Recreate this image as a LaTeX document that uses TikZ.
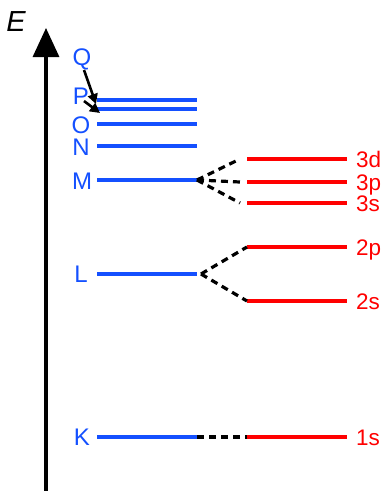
\documentclass[tikz,border=0pt]{standalone}
\usepackage{fontspec}
\setmainfont{Liberation Sans}
\usetikzlibrary{arrows.meta}
\definecolor{shellblue}{RGB}{20,80,255}
\definecolor{subred}{RGB}{255,0,0}
\begin{document}
\begin{tikzpicture}[x=1pt,y=-1pt,
  shell/.style={draw=shellblue,line width=3.2pt},
  sub/.style={draw=subred,line width=3.2pt},
  split/.style={draw=black,line width=3.2pt,dash pattern=on 7pt off 5pt},
  slabel/.style={text=shellblue,font=\fontsize{24}{24}\selectfont,inner sep=0pt},
  rlabel/.style={text=subred,font=\fontsize{22.5}{22.5}\selectfont,inner sep=0pt,anchor=base west},
  ptr/.style={draw=black,line width=2.6pt,-{Triangle[length=10pt,width=10pt]}}]
\useasboundingbox (0,0) rectangle (386,491);
% energy axis
\coordinate (ab) at (46,491);
\coordinate (at) at (46,28);
\draw[line width=3.2pt,-{Triangle[length=29pt,width=26pt]}] (ab) -- (at);
\node[font=\fontsize{29}{29}\selectfont\itshape,inner sep=0pt] (E) at (16,22) {E};
% shells
\foreach \n/\y in {P1/100,P2/109,O/124,N/146,M/180,L/274,K/437}{
  \coordinate (\n l) at (97,\y);
  \coordinate (\n r) at (197,\y);
  \draw[shell] (\n l) -- (\n r);
}
\node[slabel] (Q) at (82,59) {Q};
\node[slabel] (P) at (81,96) {P};
\node[slabel] (O) at (81,125) {O};
\node[slabel] (N) at (81,147) {N};
\node[slabel] (M) at (82,181) {M};
\node[slabel] (L) at (81,274) {L};
\node[slabel] (K) at (82,437) {K};
\coordinate (q0) at (84,70);
\coordinate (q1) at (96,104);
\coordinate (p0) at (84,101);
\coordinate (p1) at (100,113);
\draw[ptr] (q0) -- (q1);
\draw[ptr] (p0) -- (p1);
% subshells
\foreach \n/\y in {3d/159,3p/182,3s/203,2p/247,2s/301,1s/437}{
  \coordinate (s\n l) at (247,\y);
  \coordinate (s\n r) at (347,\y);
  \draw[sub] (s\n l) -- (s\n r);
  \node[rlabel] (t\n) at (356,\y+8.5) {\n};
}
% splitting
\coordinate (d3d) at (240,159);
\coordinate (d3p) at (240,182);
\coordinate (d3s) at (240,203);
\draw[split] (Mr) -- (d3d);
\draw[split] (Mr) -- (d3p);
\draw[split] (Mr) -- (d3s);
\coordinate (Lx) at (201,274);
\draw[split] (Lx) -- (s2pl);
\draw[split] (Lx) -- (s2sl);
\draw[split] (Kr) -- (s1sl);
\end{tikzpicture}
\end{document}
